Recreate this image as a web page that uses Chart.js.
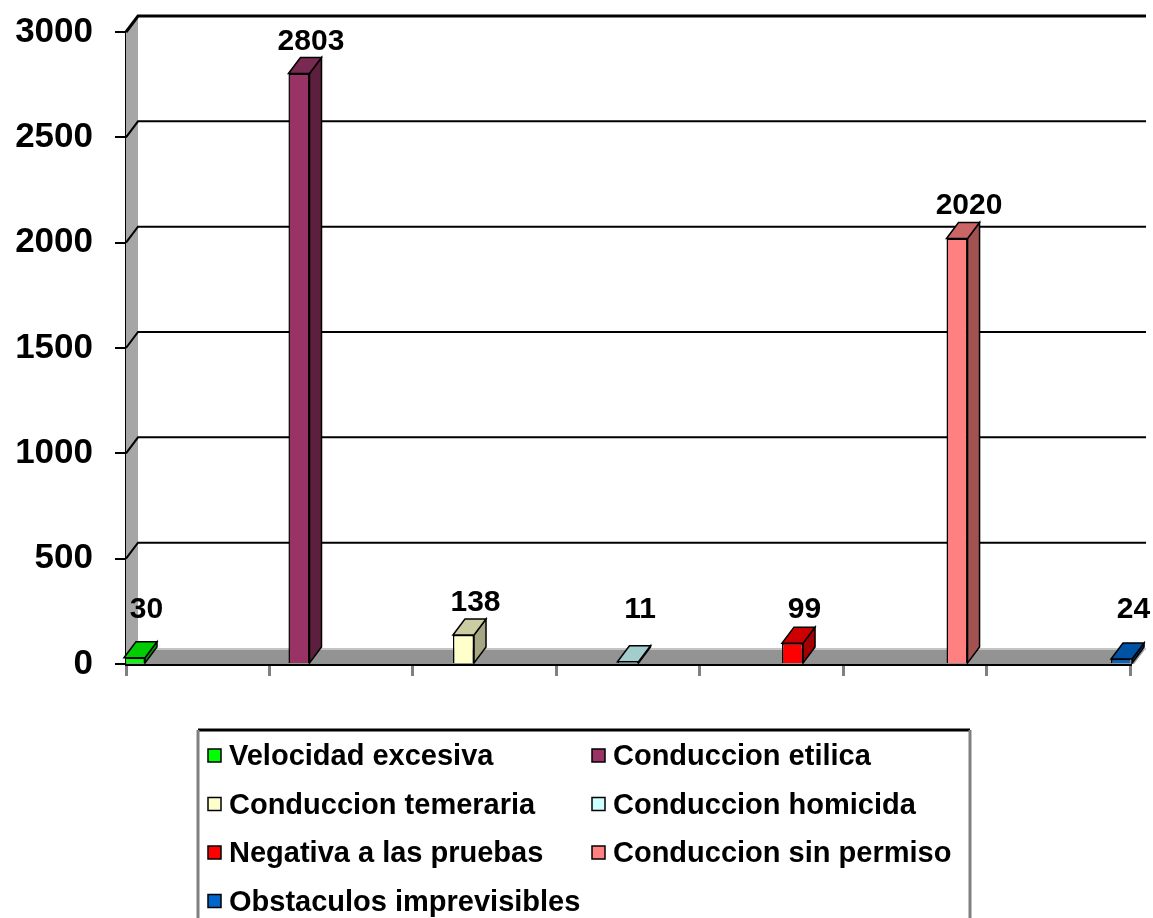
<!DOCTYPE html>
<html>
<head>
<meta charset="utf-8">
<script src="https://cdn.jsdelivr.net/npm/chart.js@4.4.1/dist/chart.umd.min.js"></script>
<style>
  html, body { margin: 0; padding: 0; background: #fff; }
  #wrap { width: 1153px; height: 918px; }
</style>
</head>
<body>
<div id="wrap"><canvas id="chart" width="1153" height="918"></canvas></div>
<script>
// ---- DATA ----
const series = [
  'Velocidad excesiva',
  'Conduccion etilica',
  'Conduccion temeraria',
  'Conduccion homicida',
  'Negativa a las pruebas',
  'Conduccion sin permiso',
  'Obstaculos imprevisibles'
];
const counts = [30, 2803, 138, 11, 99, 2020, 24];
const yMax = 3000;
const yStep = 500;
const floorTicks = [0, 1, 2, 3, 4, 5, 6, 7];   // tick marks along the floor edge

// front / top / side shading for each series
const faceColors = ['#00ff00', '#993366', '#ffffcc', '#ccffff', '#ff0000', '#ff8080', '#0066cc'];
const topColors  = ['#00cc00', '#7a2952', '#cccca3', '#a3cccc', '#cc0000', '#cc6666', '#0052a3'];
const sideColors = ['#009900', '#5c1f3d', '#a6a685', '#85a6a6', '#a30000', '#a35252', '#003d7a'];

const FONT = "'Liberation Sans', Arial, sans-serif";
const DX = 12, DY = 16;   // depth offset of the 3D box

Chart.defaults.font.family = FONT;
Chart.defaults.color = '#000';

// ---- 3D WALLS, FLOOR, GRID ----
const walls = {
  id: 'walls',
  beforeDatasetsDraw(chart) {
    const { ctx, chartArea: a, scales: { y } } = chart;
    const backRight = a.right + DX + 4;
    ctx.save();

    // left side wall
    ctx.fillStyle = '#a6a6a6';
    ctx.beginPath();
    ctx.moveTo(a.left, a.top);
    ctx.lineTo(a.left + DX, a.top - DY);
    ctx.lineTo(a.left + DX, a.bottom - DY);
    ctx.lineTo(a.left, a.bottom);
    ctx.closePath();
    ctx.fill();

    // floor
    ctx.fillStyle = '#939393';
    ctx.beginPath();
    ctx.moveTo(a.left, a.bottom);
    ctx.lineTo(a.left + DX, a.bottom - DY);
    ctx.lineTo(backRight, a.bottom - DY);
    ctx.lineTo(a.right + 4, a.bottom);
    ctx.closePath();
    ctx.fill();
    ctx.strokeStyle = '#c4c4c4';
    ctx.lineWidth = 2;
    ctx.beginPath();
    ctx.moveTo(a.left + DX, a.bottom - DY + 1);
    ctx.lineTo(backRight, a.bottom - DY + 1);
    ctx.stroke();

    // grid lines across side wall and back wall
    ctx.strokeStyle = '#000';
    y.ticks.forEach(t => {
      if (t.value === 0) return;
      const py = y.getPixelForValue(t.value);
      ctx.lineWidth = t.value === yMax ? 3 : 2;
      ctx.beginPath();
      ctx.moveTo(a.left, py);
      ctx.lineTo(a.left + DX, py - DY);
      ctx.lineTo(backRight, py - DY);
      ctx.stroke();
    });
    ctx.restore();
  }
};

// ---- 3D BAR FACES + VALUE LABELS ----
const bars3d = {
  id: 'bars3d',
  afterDatasetsDraw(chart) {
    const { ctx } = chart;
    ctx.save();
    ctx.lineWidth = 1.5;
    ctx.strokeStyle = '#000';
    chart.data.datasets.forEach((ds, i) => {
      const meta = chart.getDatasetMeta(i);
      meta.data.forEach(bar => {
        const { x, y, base, width } = bar.getProps(['x', 'y', 'base', 'width'], true);
        const l = x - width / 2, r = x + width / 2;
        // side
        ctx.fillStyle = sideColors[i];
        ctx.beginPath();
        ctx.moveTo(r, y);
        ctx.lineTo(r + DX, y - DY);
        ctx.lineTo(r + DX, base - DY);
        ctx.lineTo(r, base);
        ctx.closePath();
        ctx.fill();
        ctx.stroke();
        // top
        ctx.fillStyle = topColors[i];
        ctx.beginPath();
        ctx.moveTo(l, y);
        ctx.lineTo(l + DX, y - DY);
        ctx.lineTo(r + DX, y - DY);
        ctx.lineTo(r, y);
        ctx.closePath();
        ctx.fill();
        ctx.stroke();
        // value label
        ctx.fillStyle = '#000';
        ctx.font = 'bold 30px ' + FONT;
        ctx.textAlign = 'center';
        ctx.textBaseline = 'alphabetic';
        ctx.fillText(String(ds.data[0]), x + 12, Math.min(y - DY - 8, 618));
      });
    });
    ctx.restore();
  }
};

// ---- BOXED TWO-COLUMN LEGEND ----
const boxLegend = {
  id: 'boxLegend',
  afterDraw(chart, args, opts) {
    const { ctx } = chart;
    ctx.save();
    // frame
    ctx.strokeStyle = '#000';
    ctx.lineWidth = 3;
    ctx.beginPath();
    ctx.moveTo(opts.left, opts.top);
    ctx.lineTo(opts.right, opts.top);
    ctx.stroke();
    ctx.strokeStyle = '#808080';
    ctx.lineWidth = 3;
    ctx.beginPath();
    ctx.moveTo(opts.left, opts.top);
    ctx.lineTo(opts.left, chart.height);
    ctx.moveTo(opts.right, opts.top);
    ctx.lineTo(opts.right, chart.height);
    ctx.stroke();

    ctx.font = 'bold 29px ' + FONT;
    ctx.textAlign = 'left';
    ctx.textBaseline = 'middle';
    chart.data.datasets.forEach((ds, i) => {
      const col = i % 2, row = Math.floor(i / 2);
      const cy = opts.firstRow + row * opts.rowGap;
      const sx = opts.cols[col];
      ctx.fillStyle = ds.backgroundColor;
      ctx.fillRect(sx, cy - 7, 13, 13);
      ctx.lineWidth = 1.5;
      ctx.strokeStyle = '#000';
      ctx.strokeRect(sx, cy - 7, 13, 13);
      ctx.fillStyle = '#000';
      ctx.fillText(ds.label, sx + 21, cy + 1);
    });
    ctx.restore();
  }
};

new Chart(document.getElementById('chart'), {
  type: 'bar',
  data: {
    labels: [''],
    datasets: series.map((name, i) => ({
      label: name,
      data: [counts[i]],
      backgroundColor: faceColors[i],
      borderColor: '#000',
      borderWidth: 1.5,
      categoryPercentage: 1.147,
      barPercentage: 0.128,
    }))
  },
  options: {
    responsive: false,
    animation: false,
    layout: { padding: { top: 32, right: 23, left: 0, bottom: 0 } },
    plugins: {
      legend: { display: false },
      tooltip: { enabled: false },
      boxLegend: { left: 198, right: 970, top: 730, firstRow: 756, rowGap: 48.5, cols: [208, 592] },
    },
    scales: {
      x: {
        display: false,
      },
      x2: {
        type: 'linear',
        position: 'bottom',
        offset: false,
        min: 0,
        max: floorTicks[floorTicks.length - 1],
        afterBuildTicks: s => { s.ticks = floorTicks.map(v => ({ value: v })); },
        ticks: { display: false },
        grid: { offset: false, drawOnChartArea: false, drawTicks: true, tickLength: 12, color: '#808080', lineWidth: 3 },
        border: { display: true, color: '#000', width: 3 },
        afterFit: s => { s.height = 918 - 664; s.paddingLeft = 0; s.paddingRight = 0; },
      },
      y: {
        min: 0,
        max: yMax,
        ticks: {
          stepSize: yStep,
          padding: 22,
          font: { size: 35, weight: 'bold' },
          color: '#000',
          callback: v => String(v),
        },
        grid: { drawOnChartArea: false, drawTicks: true, tickLength: 11, color: '#000', lineWidth: 2 },
        border: { display: true, color: '#000', width: 2 },
        afterFit: s => { s.width = 126; s.paddingTop = 0; s.paddingBottom = 0; },
      }
    }
  },
  plugins: [walls, bars3d, boxLegend]
});
</script>
</body>
</html>
